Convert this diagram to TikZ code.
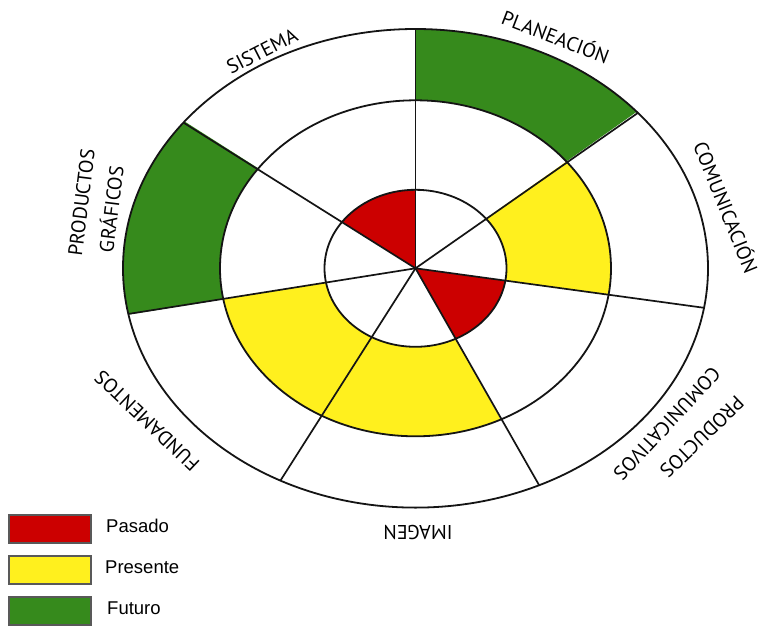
\documentclass[tikz,border=0pt]{standalone}
\usepackage{fontspec}
\newfontfamily\lblfont{PT Sans}
\newfontfamily\legfont{Liberation Sans}
\definecolor{pasado}{HTML}{CC0000}
\definecolor{presente}{HTML}{FFF01E}
\definecolor{futuro}{HTML}{368A1C}
% #1 colour, #2 start angle, #3 end angle, #4/#5 inner radii, #6/#7 outer radii
\newcommand\wheelband[7]{%
  \begin{scope}
    \clip (0,0) -- ({700*cos(#2)},{580*sin(#2)})
      -- ({700*cos((#2+#3)/2)},{580*sin((#2+#3)/2)})
      -- ({700*cos(#3)},{580*sin(#3)}) -- cycle;
    \fill[#1, even odd rule] (0,0) ellipse[x radius=#6, y radius=#7]
                             (0,0) ellipse[x radius=#4, y radius=#5];
  \end{scope}}
\begin{document}
\begin{tikzpicture}[x=1pt,y=-1pt,
  ring/.style={draw=black!92, line width=1.8pt},
  spoke/.style={draw=black!92, line width=1.7pt},
  lbl/.style={font=\lblfont\fontsize{20}{24}\selectfont, inner sep=0pt, anchor=center},
  legbox/.style={draw=black!65, line width=1.2pt, minimum width=82pt, minimum height=28pt, inner sep=0pt},
  legtxt/.style={font=\legfont\fontsize{18.5}{22}\selectfont, anchor=west, inner sep=0pt}]
\useasboundingbox (0,0) rectangle (760,626);
\fill[white] (0,0) rectangle (760,626);
\begin{scope}[shift={(415.5,268.3)}, yscale=-1]
  \coordinate (c) at (0,0);
  % outer ring (Futuro)
  \wheelband{futuro}{40.5}{90}{195.5}{168}{292.5}{239.3}
  \wheelband{futuro}{142.5}{191}{195.5}{168}{292.5}{239.3}
  % middle ring (Presente)
  \wheelband{presente}{191}{242.5}{91}{78.5}{195.5}{168}
  \wheelband{presente}{242.5}{295}{91}{78.5}{195.5}{168}
  \wheelband{presente}{-9.5}{40.5}{91}{78.5}{195.5}{168}
  % inner ring (Pasado)
  \wheelband{pasado}{90}{142.5}{0.01}{0.01}{91}{78.5}
  \wheelband{pasado}{295}{350.5}{0.01}{0.01}{91}{78.5}
  % rings
  \draw[ring] (c) ellipse[x radius=91, y radius=78.5];
  \draw[ring] (c) ellipse[x radius=195.5, y radius=168];
  \draw[ring] (c) ellipse[x radius=292.5, y radius=239.3];
  % spokes
  \foreach \a/\n in {90/a,142.5/b,191/c,242.5/d,295/e,350.5/f,40.5/g}{
    \coordinate (s\n) at ({292.5*cos(\a)},{239.3*sin(\a)});
    \draw[spoke] (c) -- (s\n);
  }
\end{scope}
% labels
\node[lbl, rotate=27] (lsis) at (262,51) {SISTEMA};
\node[lbl, rotate=-21] (lpla) at (556,36) {PLANEACIÓN};
\node[lbl, rotate=-68] (lcom) at (727,207) {COMUNICACIÓN};
\node[lbl, rotate=-136] (lpc1) at (702,437) {PRODUCTOS};
\node[lbl, rotate=-133] (lpc2) at (667,424) {COMUNICATIVOS};
\node[lbl, rotate=180] (lima) at (418,532) {IMAGEN};
\node[lbl, rotate=136.5] (lfun) at (147,421) {FUNDAMENTOS};
\node[lbl, rotate=83] (lpg1) at (81.5,202.5) {PRODUCTOS};
\node[lbl, rotate=83] (lpg2) at (110,209) {GRÁFICOS};
% legend
\node[legbox, fill=pasado] (bpas) at (50,529) {};
\node[legbox, fill=presente] (bpre) at (50,570) {};
\node[legbox, fill=futuro] (bfut) at (50,611) {};
\node[legtxt] (tpas) at (106,526) {Pasado};
\node[legtxt] (tpre) at (105,567) {Presente};
\node[legtxt] (tfut) at (107,608) {Futuro};
\end{tikzpicture}
\end{document}
